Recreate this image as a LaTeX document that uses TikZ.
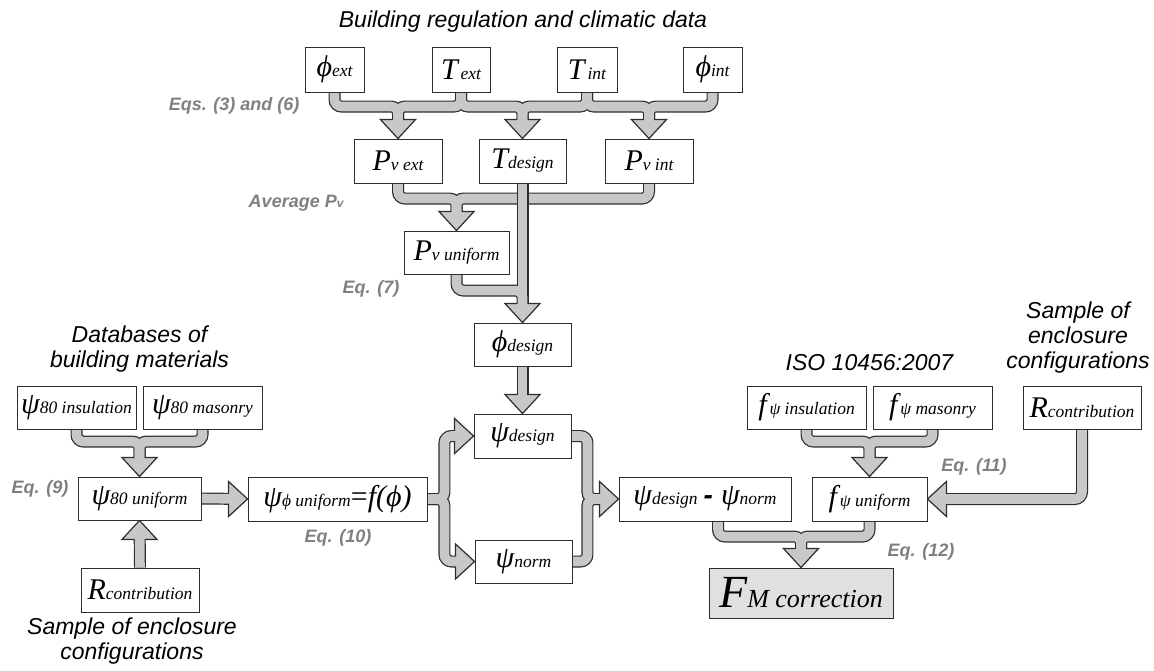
\documentclass[tikz,border=0pt]{standalone}
\usepackage{fontspec}
\setmainfont{Liberation Serif}
\setsansfont{Liberation Sans}
\usetikzlibrary{calc,positioning,backgrounds}
\definecolor{bandgray}{RGB}{200,200,200}
\definecolor{eqgray}{RGB}{128,128,128}
\definecolor{edgegray}{RGB}{45,45,45}
\tikzset{box/.style={rectangle,draw=edgegray,line width=0.9pt,fill=white,inner sep=0pt,font=\itshape},}
\tikzset{bandout/.style={draw=edgegray,line width=12pt,rounded corners=7pt,shorten >=16pt},}
\tikzset{bandin/.style={draw=bandgray,line width=9.6pt,rounded corners=7pt,shorten >=16pt},}
\tikzset{head/.style={fill=bandgray,draw=edgegray,line width=1.2pt,line join=miter},}
\tikzset{eq/.style={font=\sffamily\bfseries\itshape\fontsize{18}{18}\selectfont,text=eqgray},}
\tikzset{src/.style={font=\sffamily\itshape\fontsize{23}{25}\selectfont,align=center},}
\newcommand{\varlbl}[2]{{\fontsize{30}{30}\selectfont #1}{\fontsize{17.5}{17.5}\selectfont #2}}
% arrow heads, tip on the box edge
\newcommand{\hdown}[1]{\draw[head] (#1) -- ++(-17.5,-19) -- ++(35,0) -- cycle;}
\newcommand{\hup}[1]{\draw[head] (#1) -- ++(-17.5,19) -- ++(35,0) -- cycle;}
\newcommand{\hright}[1]{\draw[head] (#1) -- ++(-19,-17.5) -- ++(0,35) -- cycle;}
\newcommand{\hleft}[1]{\draw[head] (#1) -- ++(19,-17.5) -- ++(0,35) -- cycle;}
% gray bands
\newcommand{\flowsA}[1]{
  \draw[#1] (phiext.south) |- ($(pvext.north)+(0,-32)$) -- (pvext.north);
  \draw[#1] (Text.south) |- ($(pvext.north)+(0,-32)$) -- (pvext.north);
  \draw[#1] (Text.south) |- ($(tdesign.north)+(0,-32)$) -- (tdesign.north);
  \draw[#1] (Tint.south) |- ($(tdesign.north)+(0,-32)$) -- (tdesign.north);
  \draw[#1] (Tint.south) |- ($(pvint.north)+(0,-32)$) -- (pvint.north);
  \draw[#1] (phiint.south) |- ($(pvint.north)+(0,-32)$) -- (pvint.north);
  \draw[#1] (pvext.south) |- ($(pvunif.north)+(0,-32)$) -- (pvunif.north);
  \draw[#1] (pvint.south) |- ($(pvunif.north)+(0,-32)$) -- (pvunif.north);
  \draw[#1] (psiins.south) |- ($(psiunif.north)+(0,-35)$) -- (psiunif.north);
  \draw[#1] (psimas.south) |- ($(psiunif.north)+(0,-35)$) -- (psiunif.north);
  \draw[#1] (rleft.north) -- (psiunif.south);
  \draw[#1] (psiunif.east) -- (psiphi.west);
  \draw[#1] (psiphi.east) -- ++(17,0) |- (psidesign.west);
  \draw[#1] (psiphi.east) -- ++(17,0) |- (psinorm.west);
  \draw[#1] (psidesign.east) -- ++(16,0) |- (psidiff.west);
  \draw[#1] (psinorm.east) -- ++(15,0) |- (psidiff.west);
  \draw[#1] (phidesign.south) -- (psidesign.north);
  \draw[#1] (fins.south) |- ($(funif.north)+(0,-35)$) -- (funif.north);
  \draw[#1] (fmas.south) |- ($(funif.north)+(0,-35)$) -- (funif.north);
  \draw[#1] (rright.south) |- (funif.east);
  \draw[#1] ($(psidiff.south)+(13,0)$) |- ($(fm.north)+(0,-31)$) -- (fm.north);
  \draw[#1] (funif.south) |- ($(fm.north)+(0,-31)$) -- (fm.north);
}
\newcommand{\flowsB}[1]{
  \draw[#1] (tdesign.south) -- (phidesign.north);
  \draw[#1] (pvunif.south) |- ($(phidesign.north)+(0,-32)$) -- (phidesign.north);
}

\begin{document}
\begin{tikzpicture}[x=1pt,y=-1pt]
  \useasboundingbox (0,0) rectangle (1154,671);

  % sources
  \node[src] (title) at (523,22) {Building regulation and climatic data};
  \node[src] (dbtext) at (139.5,349) {Databases of\\building materials};
  \node[src] (sampleL) at (132,641) {Sample of enclosure\\configurations};
  \node[src] (isotext) at (869.5,363) {ISO 10456:2007};
  \node[src] (sampleR) at (1078,338) {Sample of\\enclosure\\configurations};

  % climatic data
  \node[box,minimum width=59pt,minimum height=45pt] (phiext) at (334.5,69.5) {\varlbl{ϕ}{ext}};
  \node[box,minimum width=58pt,minimum height=45pt] (Text) at (461,69.5) {\varlbl{T}{\,ext}};
  \node[box,minimum width=60pt,minimum height=45pt] (Tint) at (587,69.5) {\varlbl{T}{\,int}};
  \node[box,minimum width=59pt,minimum height=45pt] (phiint) at (712.5,69.5) {\varlbl{ϕ}{int}};
  \node[box,minimum width=88pt,minimum height=44pt] (pvext) at (398,161) {\varlbl{P}{v ext}};
  \node[box,minimum width=87pt,minimum height=44pt] (tdesign) at (522.5,161) {\varlbl{T}{design}};
  \node[box,minimum width=88pt,minimum height=44pt] (pvint) at (649,161) {\varlbl{P}{v int}};
  \node[box,minimum width=105pt,minimum height=43pt] (pvunif) at (456.5,252.5) {\varlbl{P}{v uniform}};
  \node[box,minimum width=97pt,minimum height=43pt] (phidesign) at (522.5,344.5) {\varlbl{ϕ}{design}};
  \node[box,minimum width=97pt,minimum height=44pt] (psidesign) at (522.5,436) {\varlbl{ψ}{design}};
  \node[box,minimum width=97pt,minimum height=43pt] (psinorm) at (523.5,561.5) {\varlbl{ψ}{norm}};

  % materials
  \node[box,minimum width=119pt,minimum height=43pt] (psiins) at (76.5,407.5) {\varlbl{ψ}{80 insulation}};
  \node[box,minimum width=119pt,minimum height=43pt] (psimas) at (202.5,407.5) {\varlbl{ψ}{80 masonry}};
  \node[box,minimum width=123pt,minimum height=43pt] (psiunif) at (139.5,498.5) {\varlbl{ψ}{80 uniform}};
  \node[box,minimum width=179pt,minimum height=44pt] (psiphi) at (337.5,499) {\varlbl{ψ}{ϕ uniform}{\fontsize{30}{30}\selectfont\upshape=}{\fontsize{30}{30}\selectfont f(ϕ)}};
  \node[box,minimum width=118pt,minimum height=44pt] (rleft) at (140,590) {\varlbl{R}{contribution}};

  % correction
  \node[box,minimum width=172pt,minimum height=44pt] (psidiff) at (705,499) {\varlbl{ψ}{design}\hspace{6pt}{\fontsize{28}{28}\selectfont\sffamily\bfseries -}\hspace{8pt}\varlbl{ψ}{norm}};
  \node[box,minimum width=119pt,minimum height=43pt] (fins) at (806.5,407.5) {\varlbl{f}{\,ψ insulation}};
  \node[box,minimum width=119pt,minimum height=43pt] (fmas) at (932.5,407.5) {\varlbl{f}{\,ψ masonry}};
  \node[box,minimum width=115pt,minimum height=44pt] (funif) at (869.5,499) {\varlbl{f}{\,ψ uniform}};
  \node[box,minimum width=118pt,minimum height=43pt] (rright) at (1082,407.5) {\varlbl{R}{contribution}};
  \node[box,fill=black!12,minimum width=184pt,minimum height=50pt] (fm) at (801,593) {{\fontsize{46}{46}\selectfont F}{\fontsize{26}{26}\selectfont M correction}};

  % equations
  \node[eq,anchor=east] (eq36) at (303,106) {Eqs. (3) and (6)};
  \node[eq,anchor=east] (avgpv) at (347,203) {Average P{\fontsize{12}{12}\selectfont v}};
  \node[eq] (eq7) at (371,289) {Eq. (7)};
  \node[eq] (eq9) at (40,489) {Eq. (9)};
  \node[eq] (eq10) at (338,538) {Eq. (10)};
  \node[eq] (eq11) at (974,467) {Eq. (11)};
  \node[eq] (eq12) at (921,552) {Eq. (12)};

  \begin{scope}[on background layer]
    \flowsA{bandout}
    \hdown{pvext.north} \hdown{tdesign.north} \hdown{pvint.north}
    \hdown{pvunif.north} \hdown{psiunif.north} \hup{psiunif.south}
    \hright{psiphi.west} \hright{psidesign.west} \hright{psinorm.west}
    \hright{psidiff.west} \hdown{psidesign.north} \hdown{funif.north}
    \hleft{funif.east} \hdown{fm.north}
    \flowsA{bandin}
    \flowsB{bandout}
    \hdown{phidesign.north}
    \flowsB{bandin}
  \end{scope}
\end{tikzpicture}
\end{document}
